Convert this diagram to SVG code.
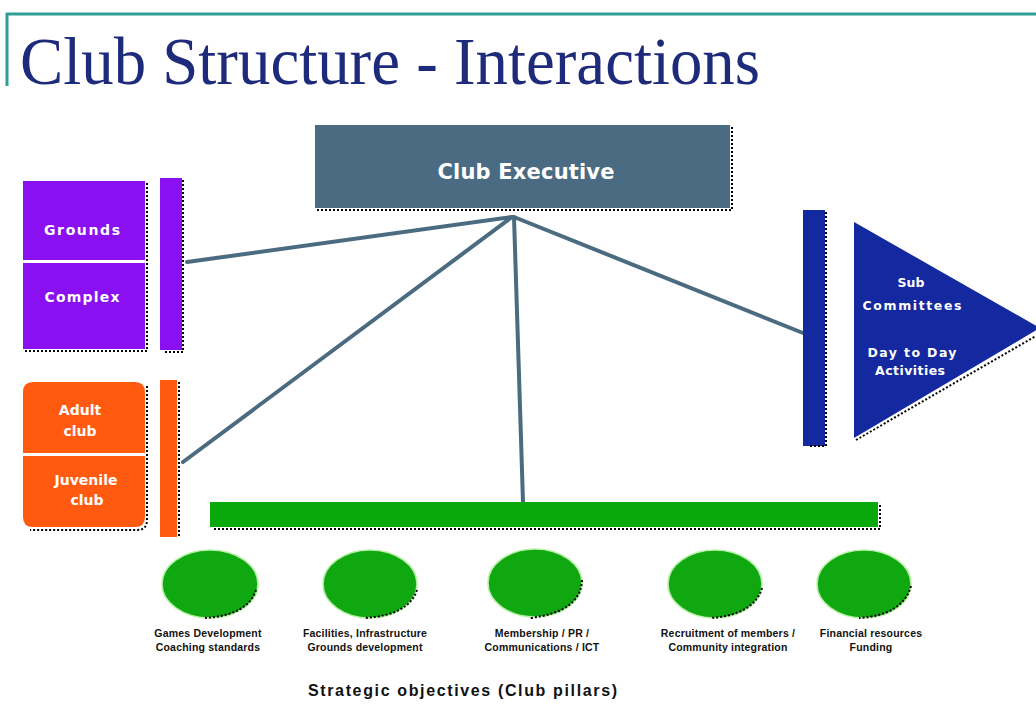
<svg xmlns="http://www.w3.org/2000/svg" width="1036" height="713" viewBox="0 0 1036 713">
<style>
.lbl{font-family:"DejaVu Sans","Liberation Sans",sans-serif;font-weight:bold;fill:#fff;text-anchor:middle}
.cap{font-family:"Liberation Sans",Arial,sans-serif;font-weight:bold;fill:#111;text-anchor:middle;font-size:10.5px;letter-spacing:0.2px}
.conn{stroke:#4b6b80;stroke-width:4;stroke-linecap:round;fill:none}
.shd{stroke:#000;stroke-width:2;stroke-dasharray:2 2;fill:none}
.pill{fill:#10a810;stroke:#b8f0a8;stroke-width:1.5}
</style>
<rect width="1036" height="713" fill="#fff"/>
<g id="title">
<line x1="6" y1="14" x2="1036" y2="14" stroke="#2e9e96" stroke-width="3"/>
<line x1="7" y1="13" x2="7" y2="86" stroke="#2e9e96" stroke-width="3"/>
<text x="20" y="84" font-family="Liberation Serif,serif" font-size="68" fill="#1e2a7a" textLength="740" lengthAdjust="spacingAndGlyphs">Club Structure  - Interactions</text>
</g>
<g id="connectors">
<line class="conn" x1="512" y1="217" x2="187" y2="262"/>
<line class="conn" x1="512" y1="217" x2="183" y2="462"/>
<line class="conn" x1="514" y1="217" x2="523" y2="502" stroke-width="5"/>
<line class="conn" x1="514" y1="217" x2="803" y2="333"/>
</g>
<g id="club-executive">
<rect x="315" y="125" width="415" height="83" fill="#4b6b82"/>
<path class="shd" d="M317 210 H732 V127" stroke-width="1.5"/>
<text class="lbl" x="526" y="179" font-size="21" textLength="177">Club Executive</text>
</g>
<g id="grounds-complex">
<rect x="23" y="181" width="122" height="79" fill="#8a10f2"/>
<rect x="23" y="263" width="122" height="86" fill="#8a10f2"/>
<path class="shd" d="M25 351 H147 V183" stroke-width="1.5"/>
<text class="lbl" x="82" y="235" font-size="14" textLength="76">Grounds</text>
<text class="lbl" x="82" y="302" font-size="14" textLength="75">Complex</text>
</g>
<g id="grounds-bar">
<rect x="160" y="178" width="22" height="172" fill="#8a10f2"/>
<path class="shd" d="M183 180 V352 H165" stroke-width="1.5"/>
</g>
<g id="clubs">
<path d="M33 382 H135 Q145 382 145 392 V453 H23 V392 Q23 382 33 382 Z" fill="#ff5a10"/>
<path d="M23 456 H145 V517 Q145 527 135 527 H33 Q23 527 23 517 Z" fill="#ff5a10"/>
<path class="shd" d="M147 386 V520 Q147 530 137 530 H30" stroke-width="1.5"/>
<text class="lbl" x="80" y="415" font-size="14">Adult</text>
<text class="lbl" x="80" y="436" font-size="14">club</text>
<text class="lbl" x="86" y="485" font-size="14">Juvenile</text>
<text class="lbl" x="87" y="505" font-size="14">club</text>
</g>
<g id="clubs-bar">
<rect x="160" y="380" width="17" height="157" fill="#ff5a10"/>
<path class="shd" d="M179 382 V538" stroke-width="3"/>
</g>
<g id="sub-bar">
<rect x="803" y="210" width="22" height="236" fill="#1428a0"/>
<path class="shd" d="M826 212 V446 H808" stroke-width="1.5" stroke-dasharray="1.5 2"/>
</g>
<g id="sub-committees">
<polygon points="854,222 1040,328 854,438" fill="#1428a0"/>
<path class="shd" d="M856 440 L1036 336" stroke-width="1.5"/>
<text class="lbl" x="911" y="287" font-size="12.5">Sub</text>
<text class="lbl" x="912" y="310" font-size="12.5" textLength="99">Committees</text>
<text class="lbl" x="912" y="357" font-size="12.5" textLength="89">Day to Day</text>
<text class="lbl" x="910" y="375" font-size="12.5" textLength="70">Activities</text>
</g>
<g id="pillars-bar">
<rect x="210" y="502" width="668" height="25" fill="#0aa80a"/>
<path class="shd" d="M214 529 H880 V504" stroke-width="1.5"/>
</g>
<g id="pillar-1">
<ellipse class="pill" cx="210" cy="584" rx="48" ry="34"/>
<path class="shd" d="M256 590 Q248 615 205 618" stroke-width="1.5"/>
<text class="cap" x="208" y="637">Games Development</text>
<text class="cap" x="208" y="651">Coaching standards</text>
</g>
<g id="pillar-2">
<ellipse class="pill" cx="370" cy="584" rx="47" ry="34"/>
<path class="shd" d="M417 590 Q409 615 365 618" stroke-width="1.5"/>
<text class="cap" x="365" y="637">Facilities, Infrastructure</text>
<text class="cap" x="365" y="651">Grounds development</text>
</g>
<g id="pillar-3">
<ellipse class="pill" cx="535" cy="583" rx="47" ry="34"/>
<path class="shd" d="M582 580 Q581 612 530 618" stroke-width="1.5"/>
<text class="cap" x="542" y="637">Membership / PR /</text>
<text class="cap" x="542" y="651">Communications / ICT</text>
</g>
<g id="pillar-4">
<ellipse class="pill" cx="715" cy="584" rx="47" ry="34"/>
<path class="shd" d="M762 588 Q754 615 710 618" stroke-width="1.5"/>
<text class="cap" x="728" y="637">Recruitment of members /</text>
<text class="cap" x="728" y="651">Community integration</text>
</g>
<g id="pillar-5">
<ellipse class="pill" cx="864" cy="584" rx="47" ry="34"/>
<path class="shd" d="M911 586 Q903 615 859 618" stroke-width="1.5"/>
<text class="cap" x="871" y="637">Financial resources</text>
<text class="cap" x="871" y="651">Funding</text>
</g>
<g id="strategic-caption">
<text x="308" y="696" font-family="Liberation Sans,Arial,sans-serif" font-weight="bold" font-size="16" fill="#111" textLength="309">Strategic objectives (Club pillars)</text>
</g>
</svg>
